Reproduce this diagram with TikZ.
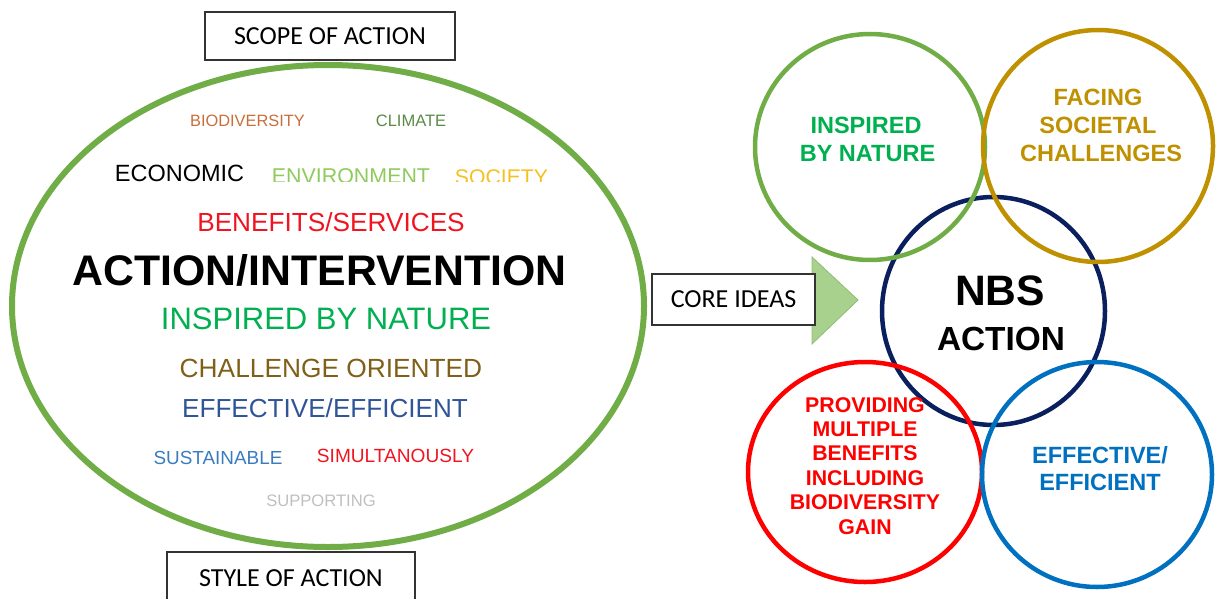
\documentclass[tikz,border=0pt]{standalone}
\usepackage{fontspec}
\setmainfont{Liberation Sans}
\newfontfamily\calib{Carlito}
\usetikzlibrary{shapes.geometric}
\newcommand\fsz[1]{\fontsize{#1}{#1}\selectfont}
\definecolor{cEll}{HTML}{70AD47}
\definecolor{cBio}{HTML}{C86E3C}
\definecolor{cClim}{HTML}{5A8A46}
\definecolor{cEnv}{HTML}{8FCB5C}
\definecolor{cSoc}{HTML}{F5C020}
\definecolor{cRed}{HTML}{F01420}
\definecolor{cNat}{HTML}{00B050}
\definecolor{cChal}{HTML}{806018}
\definecolor{cEff}{HTML}{2F5597}
\definecolor{cSus}{HTML}{3A7CC0}
\definecolor{cSup}{HTML}{BFBFBF}
\definecolor{cGold}{HTML}{BF9000}
\definecolor{cNavy}{HTML}{0A1F5E}
\definecolor{cBlue}{HTML}{0070C0}
\definecolor{cTri}{HTML}{A9D18E}
\definecolor{cTriE}{HTML}{8FBC72}
\begin{document}
\begin{tikzpicture}[x=1pt,y=-1pt,
  lbl/.style={anchor=base,inner sep=0pt},
  boxlbl/.style={draw=black!80,line width=1.3pt,fill=white,inner sep=0pt,font=\calib\fsz{26}},
  ring/.style={ellipse,draw,line width=4.5pt,inner sep=0pt},
  rtxt/.style={lbl,font=\bfseries\fsz{23.5}}]
\useasboundingbox (0,0) rectangle (1217,599);

% big ellipse
\node[ellipse,draw=cEll,line width=6pt,inner sep=0pt,minimum width=632pt,minimum height=482pt] (ell) at (328,306) {};

% boxes
\node[boxlbl,minimum width=250pt,minimum height=48pt] (scope) at (330,36) {SCOPE OF ACTION};
\node[boxlbl,minimum width=248pt,minimum height=52pt] (style) at (291,578) {STYLE OF ACTION};

% arrow triangle and core ideas
\coordinate (triA) at (812,257);
\coordinate (triB) at (858,300);
\coordinate (triC) at (812,344);
\fill[cTri,draw=cTriE,line width=0.8pt] (triA) -- (triB) -- (triC) -- cycle;
\node[boxlbl,minimum width=163pt,minimum height=51pt] (core) at (733.5,299.5) {CORE IDEAS};

% left texts
\node[lbl,text=cBio,font=\fsz{16.4}] (tBio) at (247.5,127) {BIODIVERSITY};
\node[lbl,text=cClim,font=\fsz{16.5}] (tClim) at (411,127) {CLIMATE};
\node[lbl,font=\fsz{23.5}] (tEco) at (179.5,181.5) {ECONOMIC};
\begin{scope}
\clip (250,140) rectangle (580,181.5);
\node[lbl,text=cEnv,font=\fsz{21.4}] (tEnv) at (351,183.5) {ENVIRONMENT};
\node[lbl,text=cSoc,font=\fsz{21.2}] (tSoc) at (501.5,184.5) {SOCIETY};
\end{scope}
\node[lbl,text=cRed,font=\fsz{26.2}] (tBen) at (331,231.5) {BENEFITS/SERVICES};
\node[lbl,font=\bfseries\fsz{42.8}] (tAct) at (319.5,285) {ACTION/INTERVENTION};
\node[lbl,text=cNat,font=\fsz{31}] (tNat) at (326,329) {INSPIRED BY NATURE};
\node[lbl,text=cChal,font=\fsz{26.3}] (tChal) at (331,377.5) {CHALLENGE ORIENTED};
\node[lbl,text=cEff,font=\fsz{26.1}] (tEff) at (325,417.5) {EFFECTIVE/EFFICIENT};
\node[lbl,text=cSus,font=\fsz{18.9}] (tSus) at (218,464) {SUSTAINABLE};
\node[lbl,text=cRed,font=\fsz{19.1}] (tSim) at (395.5,462) {SIMULTANOUSLY};
\node[lbl,text=cSup,font=\fsz{16.6}] (tSup) at (321,506) {SUPPORTING};

% right circles
\node[ring,draw=cNavy,minimum width=223pt,minimum height=228pt] (cNbs) at (993.5,311) {};
\node[ring,draw=cEll,minimum width=230pt,minimum height=226pt] (cIns) at (870,147) {};
\node[ring,draw=cGold,minimum width=230pt,minimum height=232pt] (cFac) at (1098,146) {};
\node[ring,draw=red,minimum width=234pt,minimum height=220pt] (cPro) at (865,472) {};
\node[ring,draw=cBlue,minimum width=230pt,minimum height=225pt] (cEfe) at (1097,474.5) {};

% right texts
\node[rtxt,text=cNat] (i1) at (866,133.5) {INSPIRED};
\node[rtxt,text=cNat] (i2) at (867.5,161.5) {BY NATURE};
\node[rtxt,text=cGold] (f1) at (1098,105.5) {FACING};
\node[rtxt,text=cGold] (f2) at (1098,133.5) {SOCIETAL};
\node[rtxt,text=cGold] (f3) at (1101,161.5) {CHALLENGES};
\node[lbl,font=\bfseries\fsz{42.6}] (n1) at (1000,305) {NBS};
\node[lbl,font=\bfseries\fsz{33.4}] (n2) at (1001,350) {ACTION};
\node[rtxt,text=red,font=\bfseries\fsz{21.3}] (p1) at (865,412) {PROVIDING};
\node[rtxt,text=red,font=\bfseries\fsz{21.3}] (p2) at (865,436.4) {MULTIPLE};
\node[rtxt,text=red,font=\bfseries\fsz{21.3}] (p3) at (865,460.8) {BENEFITS};
\node[rtxt,text=red,font=\bfseries\fsz{21.3}] (p4) at (865,485.2) {INCLUDING};
\node[rtxt,text=red,font=\bfseries\fsz{21.3}] (p5) at (865,509.6) {BIODIVERSITY};
\node[rtxt,text=red,font=\bfseries\fsz{21.3}] (p6) at (865,534) {GAIN};
\node[rtxt,text=cBlue] (e1) at (1100,463.5) {EFFECTIVE/};
\node[rtxt,text=cBlue] (e2) at (1100,490.5) {EFFICIENT};
\end{tikzpicture}
\end{document}
